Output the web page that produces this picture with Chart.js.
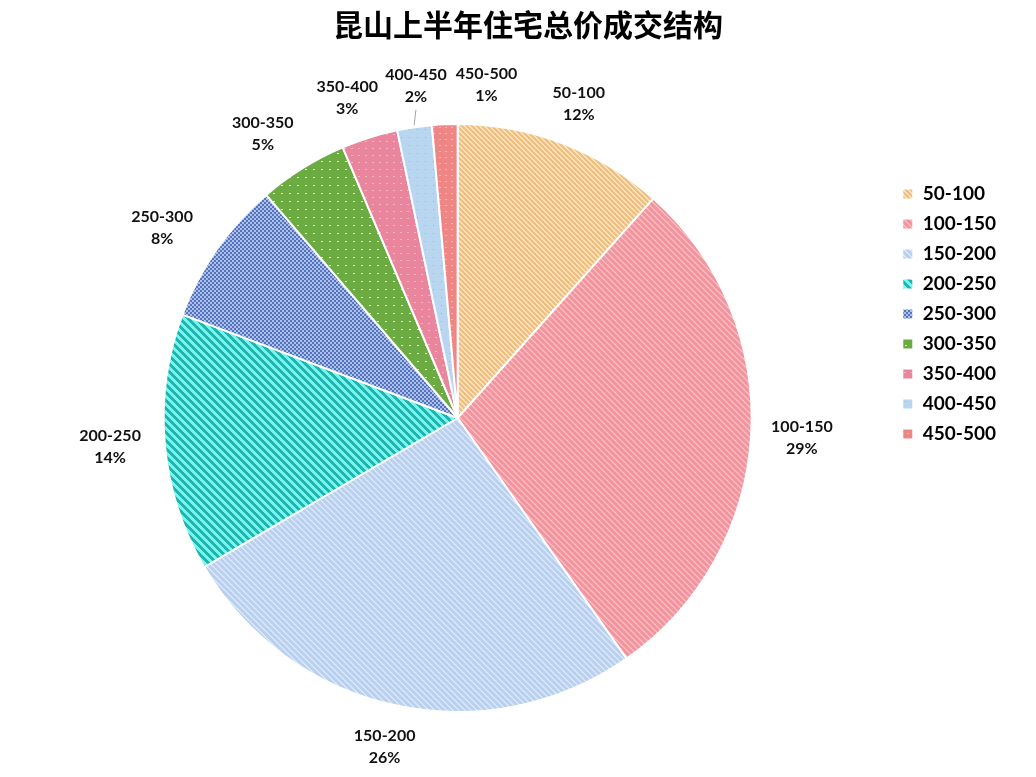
<!DOCTYPE html>
<html>
<head>
<meta charset="utf-8">
<script src="https://cdn.jsdelivr.net/npm/chart.js@4"></script>
<style>
  html, body { margin: 0; padding: 0; background: #ffffff; }
  #wrap { width: 1036px; height: 777px; }
</style>
</head>
<body>
<div id="wrap"><canvas id="c" width="1036" height="777"></canvas></div>
<script>
// ---- data ----
const title = '昆山上半年住宅总价成交结构';
const categories = ['50-100', '100-150', '150-200', '200-250', '250-300', '300-350', '350-400', '400-450', '450-500'];
const shares = [11.6, 28.7, 26.3, 14.2, 8.0, 4.9, 3.1, 1.9, 1.4];

// ---- pattern helpers ----
function tile(size, draw) {
  const c = document.createElement('canvas');
  c.width = size; c.height = size;
  const g = c.getContext('2d');
  draw(g, size);
  return g.createPattern(c, 'repeat');
}
function stripes(bg, fg, period, width) {
  return tile(period, (g, n) => {
    g.fillStyle = bg; g.fillRect(0, 0, n, n);
    g.fillStyle = fg;
    for (let y = 0; y < n; y++) for (let x = 0; x < n; x++) {
      if ((((x - y) % n) + n) % n < width) g.fillRect(x, y, 1, 1);
    }
  });
}
function checker(a, b, cell) {
  return tile(cell * 2, (g, n) => {
    g.fillStyle = a; g.fillRect(0, 0, n, n);
    g.fillStyle = b; g.fillRect(0, 0, cell, cell); g.fillRect(cell, cell, cell, cell);
  });
}
function dots(bg, fg, period, dw, dh) {
  return tile(period, (g, n) => {
    g.fillStyle = bg; g.fillRect(0, 0, n, n);
    g.fillStyle = fg; g.fillRect(1, 1, dw, dh);
  });
}

const fills = [
  stripes('#fae2bf', '#f2c07e', 5, 3),
  stripes('#f2959e', '#f7b9be', 6, 2),
  stripes('#b9d0ee', '#d9e6f7', 6, 2),
  stripes('#1db5ad', '#78f4ee', 8, 4),
  checker('#5374be', '#aebfe9', 2),
  dots('#6cab42', '#dff3cc', 8, 2, 1),
  dots('#e9869d', '#f5b4c3', 7, 2, 1),
  dots('#b9d6f0', '#8eb6df', 8, 1, 1),
  dots('#ef8686', '#f7b3b3', 6, 2, 1)
];

const labelFont = 'bold 16px Lato, "Open Sans", sans-serif';

// draws the two-line outside labels (category + percent) from the arc geometry
const outsideLabels = {
  id: 'outsideLabels',
  afterDatasetsDraw(chart, args, opts) {
    const ctx = chart.ctx;
    const meta = chart.getDatasetMeta(0);
    const data = chart.data.datasets[0].data;
    const total = data.reduce((a, b) => a + b, 0);
    ctx.save();
    ctx.font = labelFont;
    ctx.fillStyle = '#111';
    ctx.textAlign = 'center';
    ctx.textBaseline = 'middle';
    meta.data.forEach((arc, i) => {
      const p = arc.getProps(['x', 'y', 'startAngle', 'endAngle', 'outerRadius'], true);
      const a = (p.startAngle + p.endAngle) / 2;
      const cos = Math.cos(a), sin = Math.sin(a);
      const l1 = chart.data.labels[i];
      const l2 = Math.round(data[i] / total * 100) + '%';
      const w = Math.max(ctx.measureText(l1).width, ctx.measureText(l2).width);
      const h = 44;
      const r = p.outerRadius + opts.gap;
      const nudge = opts.nudge[i] || [0, 0];
      const cx = p.x + cos * r + cos * w / 2 + nudge[0];
      const cy = p.y + sin * r + sin * h / 2 + nudge[1];
      ctx.fillText(l1, cx, cy - 11);
      ctx.fillText(l2, cx, cy + 11);
      if (opts.leader.includes(i)) {
        ctx.strokeStyle = '#a6a6a6';
        ctx.lineWidth = 1;
        ctx.beginPath();
        ctx.moveTo(p.x + cos * (p.outerRadius + 2), p.y + sin * (p.outerRadius + 2));
        ctx.lineTo(cx, cy + h / 2 + 2);
        ctx.stroke();
      }
    });
    ctx.restore();
  }
};

// fine placement of title and legend blocks
const placeBlocks = {
  id: 'placeBlocks',
  afterLayout(chart) {
    const t = chart.titleBlock;
    if (t) { t.left += 13; t.right += 13; }
    const lg = chart.legend;
    if (lg) {
      const h = lg.bottom - lg.top;
      lg.top = 173.5; lg.bottom = lg.top + h;
      lg.left -= 2; lg.right -= 2;
    }
  }
};

new Chart(document.getElementById('c'), {
  type: 'pie',
  data: {
    labels: categories,
    datasets: [{
      data: shares,
      backgroundColor: fills,
      borderColor: '#ffffff',
      borderWidth: 2
    }]
  },
  plugins: [outsideLabels, placeBlocks],
  options: {
    responsive: false,
    animation: false,
    radius: 294,
    layout: { padding: { left: 22, right: 28, top: 4, bottom: 4 } },
    plugins: {
      title: {
        display: true,
        text: title,
        color: '#000',
        font: { family: '"Noto Sans CJK SC", sans-serif', size: 30, weight: 'bold' },
        padding: { top: 3, bottom: 20 }
      },
      legend: {
        display: true,
        position: 'right',
        align: 'start',
        labels: {
          boxWidth: 11,
          boxHeight: 11,
          padding: 11,
          color: '#000',
          font: { family: 'Lato, "Open Sans", sans-serif', size: 19, weight: 'bold' }
        }
      },
      tooltip: { enabled: false },
      outsideLabels: {
        gap: 20,
        nudge: [[0, 0], [0, 0], [0, 0], [-4, 0], [-13, 2], [-13, 1], [-7, 0], [9, 0], [44, 3]],
        leader: [7]
      }
    }
  }
});
</script>
</body>
</html>
